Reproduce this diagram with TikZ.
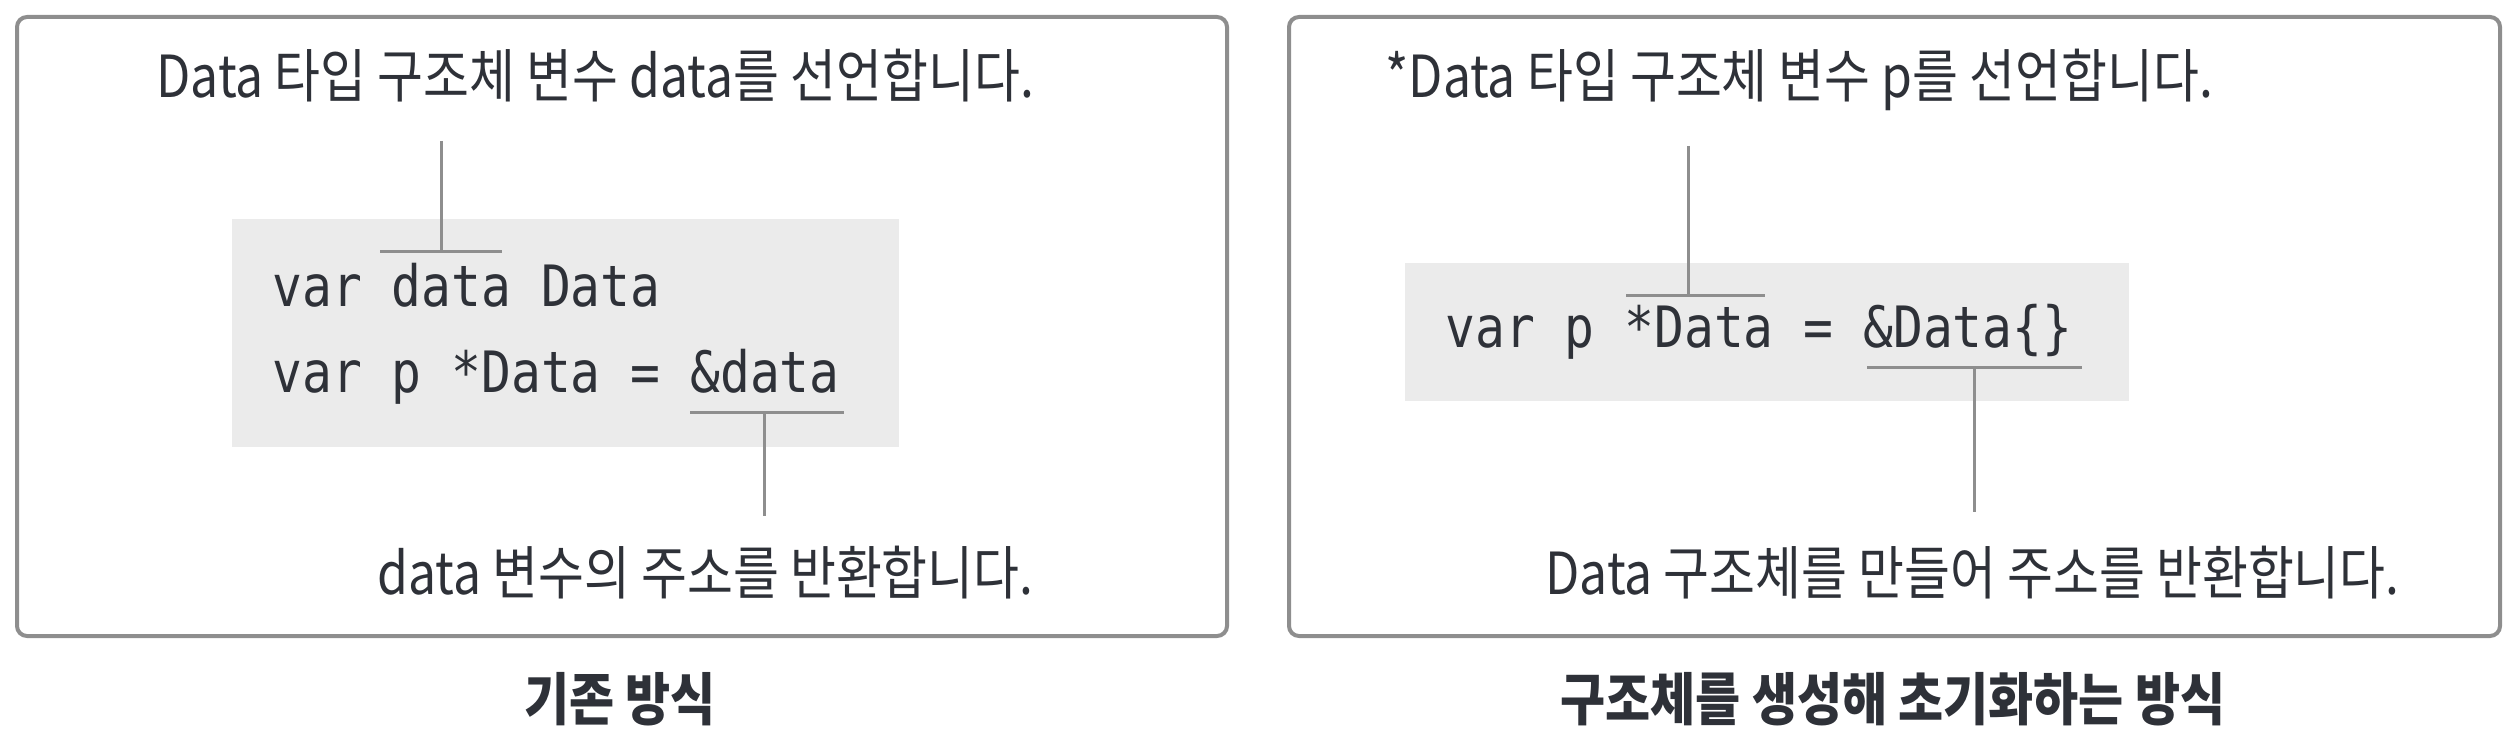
\documentclass[tikz,border=0pt]{standalone}
\usepackage{fontspec}
\setmainfont{Noto Sans CJK KR}[FakeStretch=0.86]
\newfontfamily\codefont{DejaVu Sans Mono}[FakeStretch=0.87]
\definecolor{framegray}{HTML}{8E8E8E}
\definecolor{codebg}{HTML}{EBEBEB}
\definecolor{inkdark}{HTML}{2E3138}
\tikzset{
  panel/.style={draw=framegray, line width=2pt, rounded corners=5pt},
  codebox/.style={fill=codebg},
  lead/.style={draw=framegray, line width=1.5pt},
  note/.style={anchor=base west, inner sep=0pt, text=inkdark, font=\fontsize{29}{33}\selectfont},
  code/.style={anchor=base west, inner sep=0pt, text=inkdark, font=\codefont\fontsize{28.5}{32}\selectfont},
  caption/.style={anchor=base, inner sep=0pt, text=inkdark, font=\bfseries\fontsize{28.5}{32}\selectfont}
}
\begin{document}
\begin{tikzpicture}[x=0.5pt, y=-0.5pt]
    \useasboundingbox (0,0) rectangle (2514,732);
    % left panel
    \draw [panel] (17,17) rectangle (1227,636);
    \fill [codebox] (232,219) rectangle (899,447);
    \node [note] (declL) at (156,98) {Data 타입 구조체 변수 data를 선언합니다.};
    \node [code] (lineA) at (272,307) {var data Data};
    \node [code] (lineB) at (272,393) {var p *Data = \&data};
    \node [note] (addrL) at (377,594) {data 변수의 주소를 반환합니다.};
    \node [caption] (capL) at (620,720) {기존 방식};
    \coordinate (barAw) at (380,252);
    \coordinate (barAe) at (502,252);
    \coordinate (barAm) at (441,252);
    \coordinate (tipA) at (441,141);
    \coordinate (barBw) at (690,412);
    \coordinate (barBe) at (844,412);
    \coordinate (barBm) at (764,412);
    \coordinate (tipB) at (764,516);
    \draw [lead] (barAw) -- (barAe);
    \draw [lead] (tipA) -- (barAm);
    \draw [lead] (barBw) -- (barBe);
    \draw [lead] (barBm) -- (tipB);
    % right panel
    \draw [panel] (1289,17) rectangle (2500,636);
    \fill [codebox] (1405,263) rectangle (2129,401);
    \node [note] (declR) at (1385,98) {*Data 타입 구조체 변수 p를 선언합니다.};
    \node [code] (lineC) at (1445,348) {var p *Data = \&Data\{\}};
    \node [note] (addrR) at (1545,594) {Data 구조체를 만들어 주소를 반환합니다.};
    \node [caption] (capR) at (1893,720) {구조체를 생성해 초기화하는 방식};
    \coordinate (barCw) at (1626,296);
    \coordinate (barCe) at (1765,296);
    \coordinate (barCm) at (1688,296);
    \coordinate (tipC) at (1688,146);
    \coordinate (barDw) at (1867,368);
    \coordinate (barDe) at (2082,368);
    \coordinate (barDm) at (1974,368);
    \coordinate (tipD) at (1974,512);
    \draw [lead] (barCw) -- (barCe);
    \draw [lead] (tipC) -- (barCm);
    \draw [lead] (barDw) -- (barDe);
    \draw [lead] (barDm) -- (tipD);
\end{tikzpicture}
\end{document}
